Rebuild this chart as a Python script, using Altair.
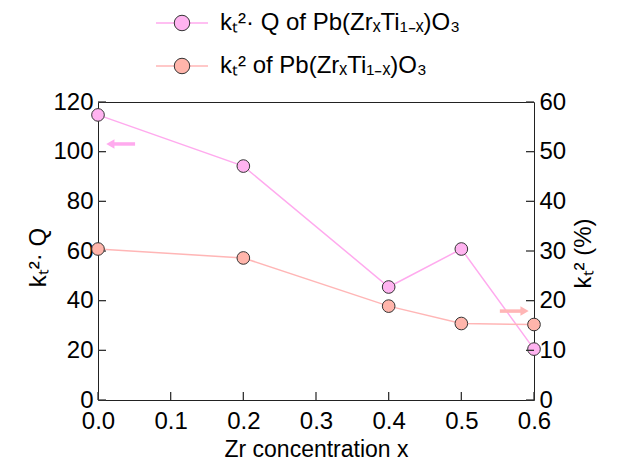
import altair as alt
import pandas as pd

# ---- data ----
zr = [0.0, 0.2, 0.4, 0.5, 0.6]
k2q = [114.8, 94.2, 45.5, 60.8, 20.5]      # left axis  (k_t^2 * Q)
k2 = [30.4, 28.6, 18.9, 15.4, 15.2]        # right axis (k_t^2, %)

legend_labels = ["kₜ²· Q of Pb(ZrₓTi₁₋ₓ)O₃", "kₜ² of Pb(ZrₓTi₁₋ₓ)O₃"]
x_ticks = [0.0, 0.1, 0.2, 0.3, 0.4, 0.5, 0.6]
left_ticks = [0, 20, 40, 60, 80, 100, 120]
right_ticks = [0, 10, 20, 30, 40, 50, 60]

# annotation arrows (data coordinates)
arrow_q_x = [0.051]; arrow_q_x2 = [0.02]; arrow_q_head = [0.017]; arrow_q_y = [103.1]
arrow_k_x = [0.553]; arrow_k_x2 = [0.583]; arrow_k_head = [0.587]; arrow_k_y = [17.9]

FONT = "Liberation Sans"
PINK_LINE = "#ffaaee"
PINK_FILL = "#ffb3f0"
SAL_LINE = "#ffb6b6"
SAL_FILL = "#ffb5ab"
FS = 24
TICK = "#333"

q_df = pd.DataFrame({"x": zr, "v": k2q})
k_df = pd.DataFrame({"x": zr, "v": k2})
aq_df = pd.DataFrame({"x": arrow_q_x, "x2": arrow_q_x2, "xh": arrow_q_head, "v": arrow_q_y})
ak_df = pd.DataFrame({"x": arrow_k_x, "x2": arrow_k_x2, "xh": arrow_k_head, "v": arrow_k_y})
xt_df = pd.DataFrame({"x": x_ticks})
lt_df = pd.DataFrame({"v": left_ticks})
rt_df = pd.DataFrame({"v": right_ticks})

W, H, TL = 436, 298, 8

x_axis = alt.Axis(values=x_ticks, format=".1f", ticks=False, tickSize=0, domain=False,
                  labelPadding=9, labelFlush=False, grid=False,
                  title="Zr concentration x", titleX=W / 2, titleY=49,
                  titleBaseline="middle", titleAlign="center", titleFontSize=23)
xs = alt.Scale(domain=[0, 0.6], nice=False, zero=False)

left_axis = alt.Axis(values=left_ticks, ticks=False, tickSize=0, domain=False, orient="left",
                     labelPadding=5, labelFlush=False, grid=False, title="kₜ²· Q",
                     titleX=-60, titleY=H / 2 + 6, titleAngle=270, titleBaseline="middle",
                     titleAlign="center")
right_axis = alt.Axis(values=right_ticks, ticks=False, tickSize=0, domain=False, orient="right",
                      labelPadding=5, labelFlush=False, grid=False, title="kₜ² (%)",
                      titleX=49, titleY=H / 2 + 2, titleAngle=270, titleBaseline="middle",
                      titleAlign="center")
ls = alt.Scale(domain=[0, 120], nice=False)
rs = alt.Scale(domain=[0, 60], nice=False)


def X(f="x"):
    return alt.X(f"{f}:Q", scale=xs, axis=x_axis)


def YL():
    return alt.Y("v:Q", scale=ls, axis=left_axis)


def YR():
    return alt.Y("v:Q", scale=rs, axis=right_axis)


left = alt.layer(
    alt.Chart(xt_df).mark_tick(orient="vertical", size=TL, thickness=1.3, color=TICK,
                               opacity=1).encode(x=X(), y=alt.value(H - TL / 2)),
    alt.Chart(lt_df).mark_tick(orient="horizontal", size=TL, thickness=1.3, color=TICK,
                               opacity=1).encode(y=YL(), x=alt.value(TL / 2)),
    alt.Chart(q_df).mark_line(color=PINK_LINE, strokeWidth=1.5).encode(x=X(), y=YL()),
    alt.Chart(aq_df).mark_rule(color=PINK_LINE, strokeWidth=3.5).encode(
        x=X(), x2="x2:Q", y=YL()),
    alt.Chart(aq_df).mark_point(shape="triangle-left", filled=True, color=PINK_LINE,
                                size=90, opacity=1).encode(x=X("xh"), y=YL()),
    alt.Chart(q_df).mark_point(filled=True, fill=PINK_FILL, stroke="#333", strokeWidth=1,
                               size=160, opacity=1).encode(x=X(), y=YL()),
)

right = alt.layer(
    alt.Chart(rt_df).mark_tick(orient="horizontal", size=TL, thickness=1.3, color=TICK,
                               opacity=1).encode(y=YR(), x=alt.value(W - TL / 2)),
    alt.Chart(k_df).mark_line(color=SAL_LINE, strokeWidth=1.5).encode(x=X(), y=YR()),
    alt.Chart(ak_df).mark_rule(color=SAL_LINE, strokeWidth=3.5).encode(
        x=X(), x2="x2:Q", y=YR()),
    alt.Chart(ak_df).mark_point(shape="triangle-right", filled=True, color=SAL_LINE,
                                size=90, opacity=1).encode(x=X("xh"), y=YR()),
    alt.Chart(k_df).mark_point(filled=True, fill=SAL_FILL, stroke="#333", strokeWidth=1,
                               size=160, opacity=1).encode(x=X(), y=YR()),
)

# manual legend (positions in pixels relative to the plot area)
one = pd.DataFrame({"d": [0]})
leg = []
for label, ypix, lc, fc in [(legend_labels[0], -79, PINK_LINE, PINK_FILL),
                            (legend_labels[1], -36, SAL_LINE, SAL_FILL)]:
    leg.append(alt.Chart(one).mark_rule(color=lc, strokeWidth=1.5).encode(
        x=alt.value(58), x2=alt.value(110), y=alt.value(ypix)))
    leg.append(alt.Chart(one).mark_point(filled=True, fill=fc, stroke="#333", strokeWidth=1,
                                         size=240, opacity=1).encode(
        x=alt.value(84), y=alt.value(ypix)))
    leg.append(alt.Chart(one).mark_text(align="left", baseline="middle", font=FONT,
                                        fontSize=FS, color="black").encode(
        x=alt.value(122), y=alt.value(ypix), text=alt.value(label)))

chart = alt.layer(left, right, *leg).resolve_scale(y="independent").properties(
    width=W, height=H,
    autosize=alt.AutoSizeParams(type="none"),
    padding={"left": 90, "top": 94, "right": 80, "bottom": 61},
    background="white",
).configure_view(stroke="#222", strokeWidth=1).configure_axis(
    labelFont=FONT, labelFontSize=FS, labelColor="black",
    titleFont=FONT, titleFontSize=FS, titleFontWeight="normal", titleColor="black",
)

chart.save("out.html", embed_options={"renderer": "svg", "actions": False})
